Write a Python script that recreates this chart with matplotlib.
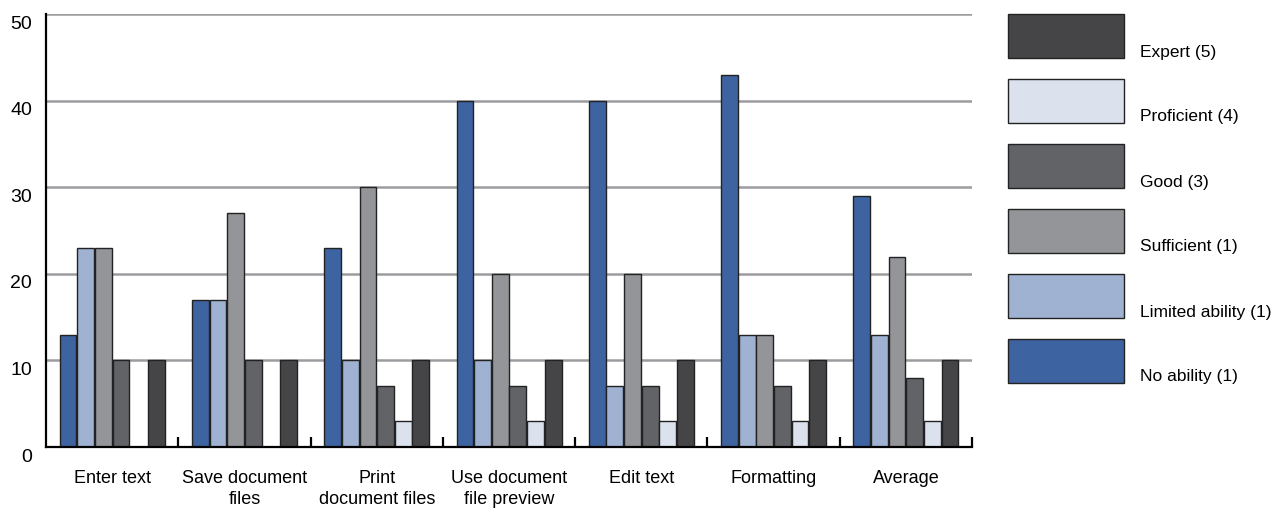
import matplotlib
matplotlib.use("Agg")
import matplotlib.pyplot as plt
import matplotlib.transforms as mtransforms
from matplotlib.patches import Rectangle
import numpy as np

plt.rcParams['font.family'] = ['Liberation Sans', 'DejaVu Sans']

categories = ['Enter text', 'Save document\nfiles', 'Print\ndocument files',
              'Use document\nfile preview', 'Edit text', 'Formatting', 'Average']

series_names = ['No ability (1)', 'Limited ability (1)', 'Sufficient (1)',
                'Good (3)', 'Proficient (4)', 'Expert (5)']
no_ability = [13, 17, 23, 40, 40, 43, 29]
limited = [23, 17, 10, 10, 7, 13, 13]
sufficient = [23, 27, 30, 20, 20, 13, 22]
good = [10, 10, 7, 7, 7, 7, 8]
proficient = [0, 0, 3, 3, 3, 3, 3]
expert = [10, 10, 10, 10, 10, 10, 10]
colors = ['#3d63a0', '#9fb2d1', '#939598', '#626367', '#dbe2ed', '#454547']

data = [no_ability, limited, sufficient, good, proficient, expert]

fig = plt.figure(figsize=(12.79, 5.08), dpi=100)
ax = fig.add_axes([0.036, 0.12, 0.724, 0.852])

x = np.arange(len(categories))
width = 0.8 / len(data)
for i, vals in enumerate(data):
    pos = x - 0.4 + width * (i + 0.5)
    ax.bar(pos, vals, width=width * 0.95, color=colors[i], edgecolor='#222222',
           linewidth=1.0, zorder=3)

ax.set_xlim(-0.5, len(categories) - 0.5)
ax.set_ylim(0, 50)
ax.set_yticks(range(0, 51, 10))
for y in range(10, 51, 10):
    ax.axhline(y, color='#9c9ca0', linewidth=1.8, zorder=1)

ax.spines['top'].set_visible(False)
ax.spines['right'].set_visible(False)
ax.spines['left'].set_linewidth(1.6)
ax.spines['bottom'].set_linewidth(1.6)
ax.spines['left'].set_zorder(4)
ax.spines['bottom'].set_zorder(4)

ax.tick_params(axis='y', length=0, pad=10, labelsize=14)
ax.set_xticks(x)
ax.set_xticklabels(categories, fontsize=13, linespacing=1.3)
ax.tick_params(axis='x', which='major', length=0, pad=16.5)
ax.set_xticks(np.arange(0.5, len(categories), 1.0), minor=True)
ax.tick_params(axis='x', which='minor', direction='in', length=7, width=1.6,
               color='black')

# nudge y labels a little below their gridlines
shift = mtransforms.ScaledTranslation(0, -8 / 100, fig.dpi_scale_trans)
for lab in ax.get_yticklabels():
    lab.set_transform(lab.get_transform() + shift)

# legend: stacked swatches, top entry is the last series
lx, lw, lh, step = 1008, 116, 44, 65
for k, idx in enumerate(range(len(data) - 1, -1, -1)):
    top = 14 + step * k
    fig.patches.append(Rectangle((lx / 1279, 1 - (top + lh) / 508), lw / 1279, lh / 508,
                                 transform=fig.transFigure, facecolor=colors[idx],
                                 edgecolor='#222222', linewidth=1.0))
    fig.text(1140 / 1279, 1 - (top + 38) / 508, series_names[idx], fontsize=12.5,
             va='center', ha='left')

fig.savefig('out.png', dpi=100)
